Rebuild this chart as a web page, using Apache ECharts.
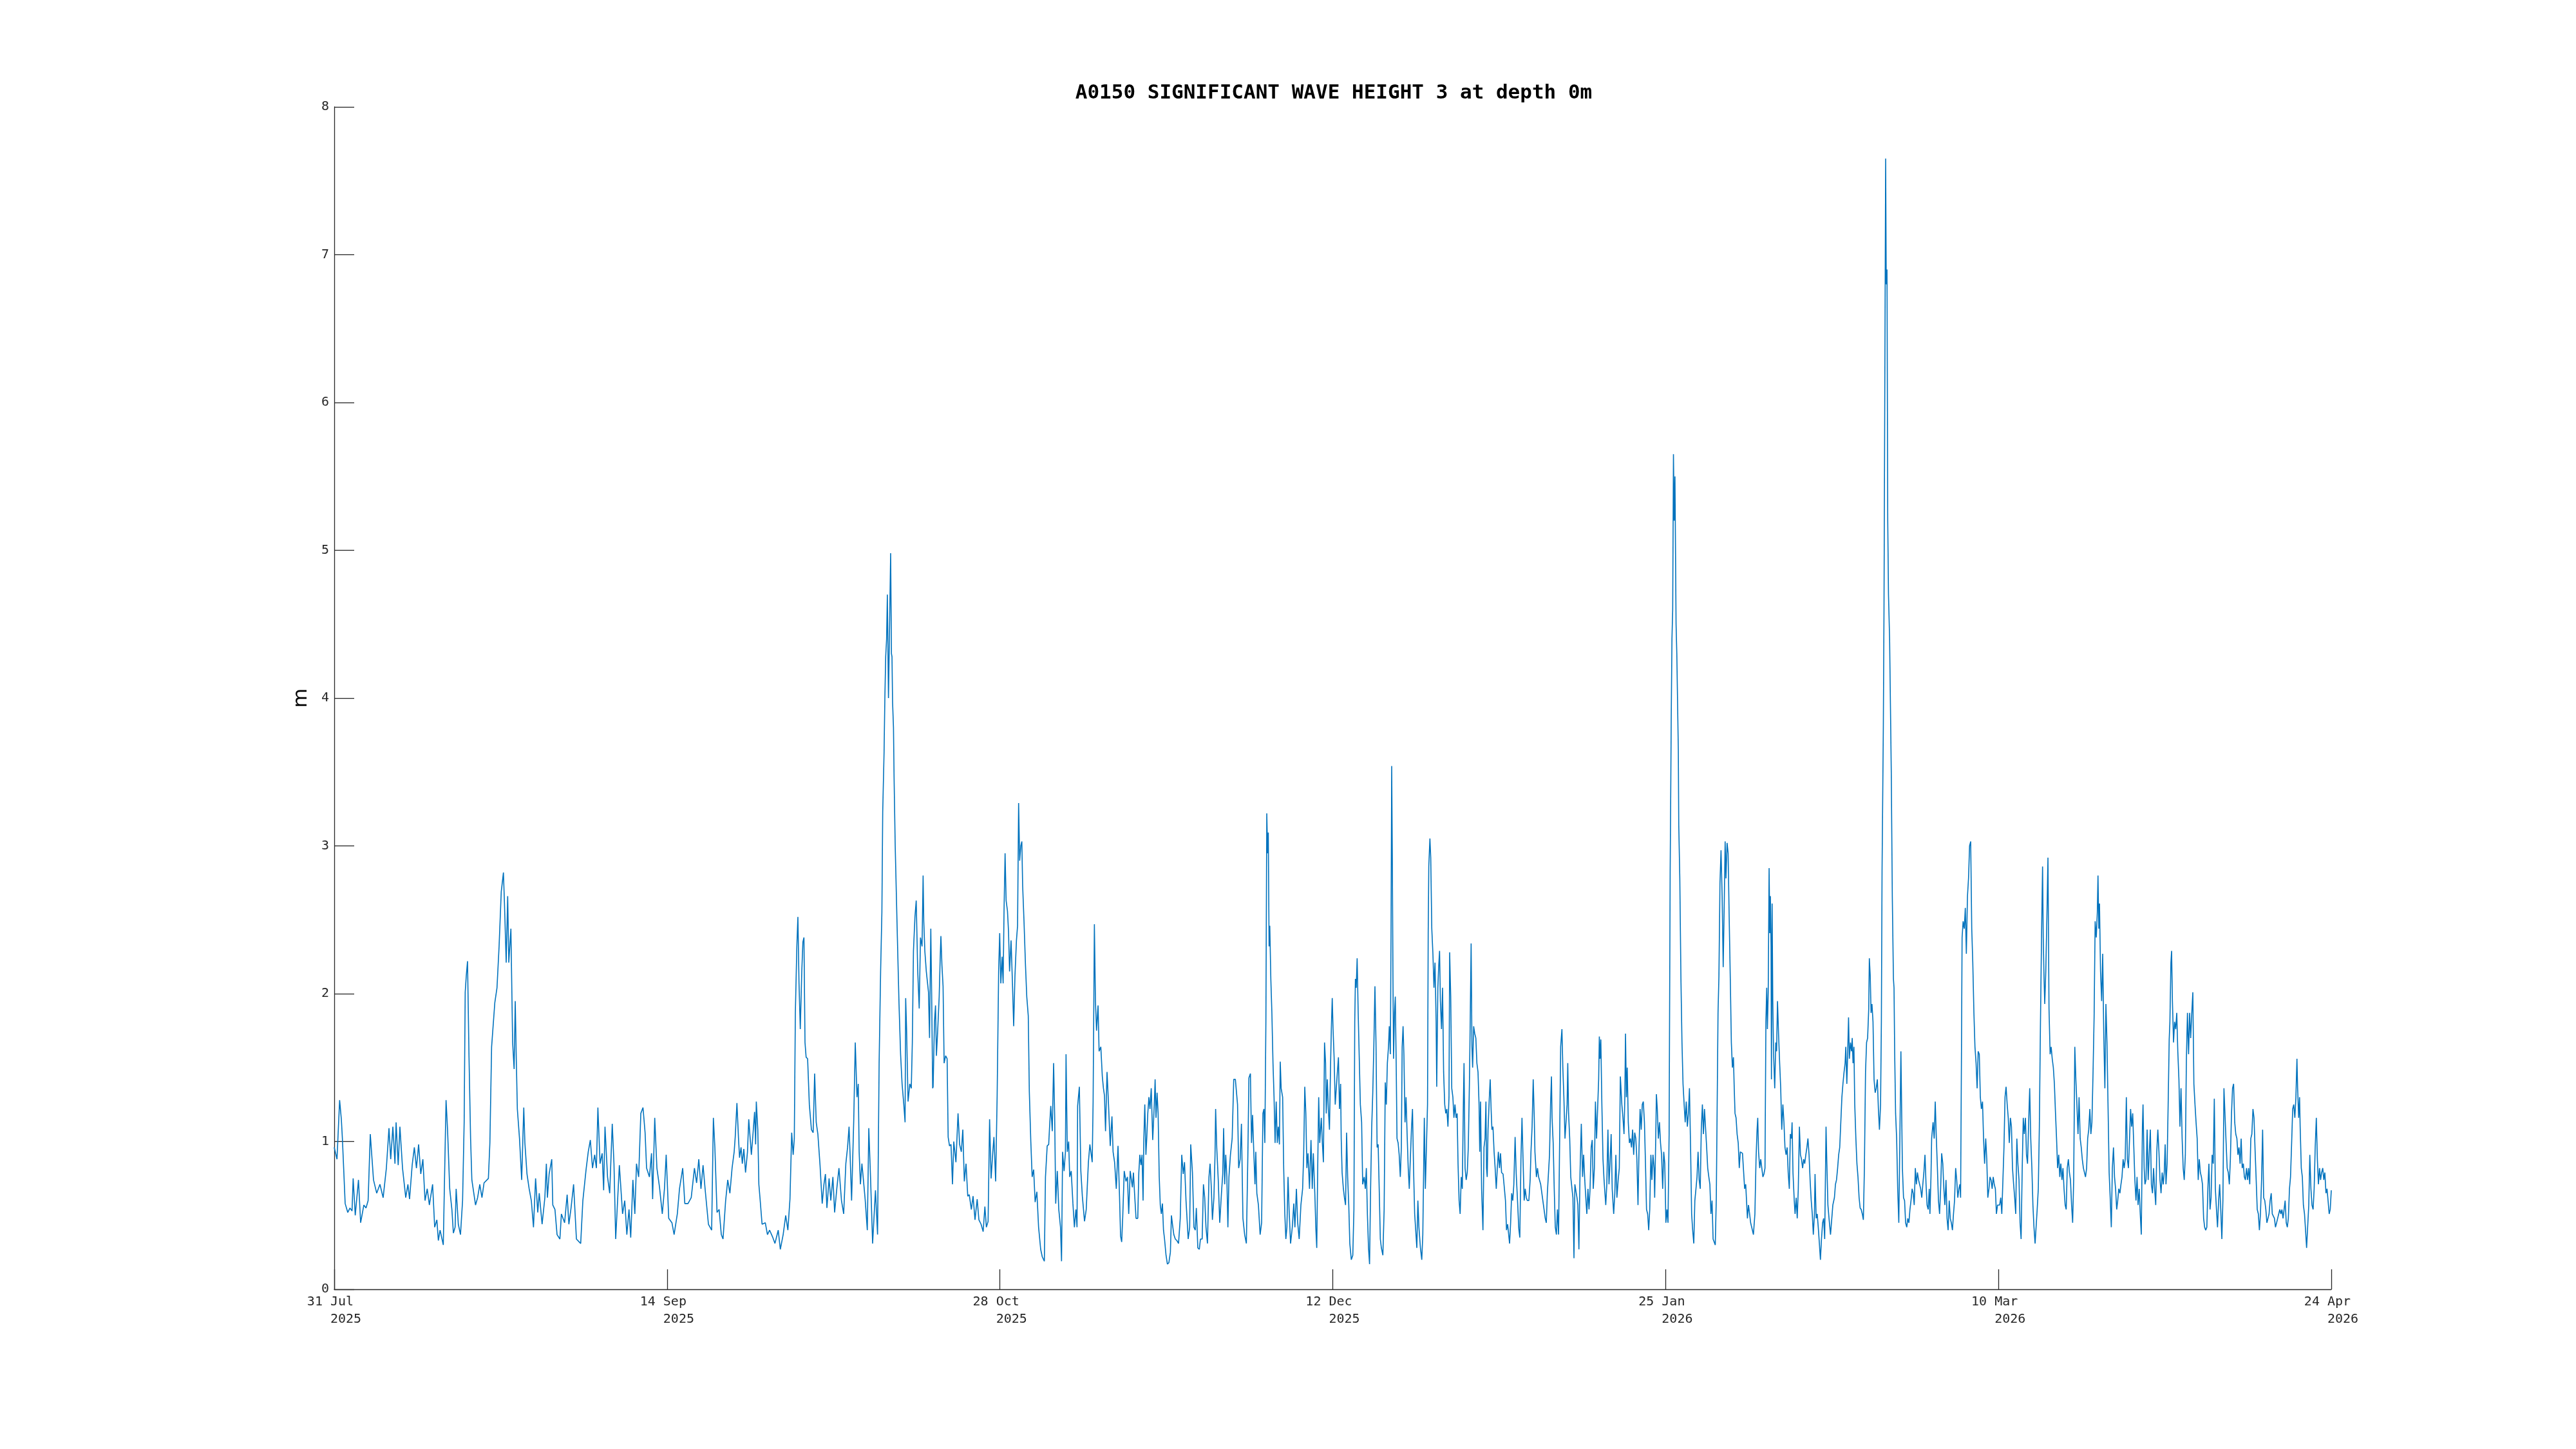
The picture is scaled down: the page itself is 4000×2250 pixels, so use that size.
<!DOCTYPE html>
<html>
<head>
<meta charset="utf-8">
<script src="https://cdn.jsdelivr.net/npm/echarts@6/dist/echarts.min.js"></script>
<style>
html,body{margin:0;padding:0;background:#fff;}
#chart{width:4000px;height:2250px;}
</style>
</head>
<body>
<div id="chart"></div>
<script>
// Title / axis texts
const chartTitle = 'A0150 SIGNIFICANT WAVE HEIGHT 3 at depth 0m';
const yAxisName = 'm';

// X ticks: days since 31 Jul 2025 00:00
const xTickDays = [0, 44.5, 89, 133.5, 178, 222.5, 267];
const xTickDates = ['31 Jul', '14 Sep', '28 Oct', '12 Dec', '25 Jan', '10 Mar', '24 Apr'];
const xTickYears = ['2025', '2025', '2025', '2025', '2026', '2026', '2026'];

// Y ticks
const yTicks = [0, 1, 2, 3, 4, 5, 6, 7, 8];

// Significant wave height [day since 31 Jul 2025, metres]
const waveHeight = [
[0,0.96],[0.37,0.88],[0.72,1.28],[0.95,1.15],[1.09,1.02],[1.46,0.58],[1.81,0.52],[2.1,0.55],[2.38,0.53],[2.53,0.75],[2.81,0.5],[3.24,0.74],[3.53,0.45],[3.96,0.57],[4.25,0.55],[4.53,0.6],[4.82,1.05],[5.25,0.74],[5.68,0.65],[6.11,0.71],[6.54,0.62],[6.97,0.82],[7.32,1.09],[7.55,0.88],[7.84,1.1],[8.12,0.85],[8.27,1.13],[8.55,0.84],[8.78,1.1],[9.13,0.82],[9.56,0.62],[9.85,0.71],[10.07,0.61],[10.42,0.84],[10.71,0.96],[10.99,0.82],[11.28,0.98],[11.57,0.78],[11.85,0.88],[12.14,0.6],[12.43,0.68],[12.72,0.57],[13.15,0.71],[13.43,0.42],[13.72,0.47],[13.92,0.33],[14.15,0.4],[14.58,0.3],[14.72,0.68],[14.95,1.28],[15.15,1.08],[15.44,0.68],[15.73,0.54],[15.93,0.38],[16.16,0.42],[16.3,0.68],[16.59,0.44],[16.88,0.37],[17.16,0.6],[17.37,1.13],[17.51,2.01],[17.65,2.12],[17.82,2.22],[18.02,1.57],[18.23,1.02],[18.4,0.74],[18.89,0.57],[19.17,0.62],[19.46,0.71],[19.75,0.62],[20.03,0.72],[20.61,0.75],[20.81,0.99],[21.04,1.64],[21.47,1.94],[21.76,2.04],[22.04,2.32],[22.33,2.69],[22.62,2.82],[22.76,2.61],[22.99,2.21],[23.19,2.66],[23.34,2.21],[23.62,2.44],[23.85,1.67],[24.05,1.49],[24.2,1.95],[24.34,1.56],[24.48,1.22],[24.77,1.02],[25.06,0.74],[25.34,1.23],[25.49,0.99],[25.77,0.78],[26.06,0.68],[26.35,0.6],[26.64,0.42],
[26.92,0.75],[27.21,0.52],[27.41,0.65],[27.79,0.44],[28.16,0.62],[28.36,0.85],[28.5,0.62],[28.73,0.78],[29.08,0.88],[29.22,0.57],[29.51,0.54],[29.79,0.37],[30.17,0.34],[30.37,0.51],[30.8,0.45],[31.14,0.64],[31.37,0.44],[31.66,0.55],[32.0,0.71],[32.38,0.34],[32.95,0.31],[33.24,0.6],[33.67,0.81],[33.96,0.93],[34.24,1.01],[34.53,0.82],[34.82,0.91],[35.05,0.82],[35.25,1.23],[35.54,0.85],[35.82,0.92],[36.02,0.67],[36.2,1.1],[36.54,0.76],[36.83,0.65],[37.17,1.12],[37.4,0.85],[37.63,0.34],[38.12,0.84],[38.55,0.51],[38.84,0.6],[39.12,0.37],[39.41,0.54],[39.64,0.35],[39.93,0.74],[40.19,0.51],[40.41,0.85],[40.7,0.76],[40.99,1.19],[41.28,1.23],[41.56,1.06],[41.76,0.82],[42.14,0.76],[42.42,0.92],[42.57,0.61],[42.85,1.16],[43.14,0.82],[43.49,0.69],[43.86,0.51],[44.15,0.68],[44.38,0.91],[44.72,0.48],[45.15,0.45],[45.44,0.37],[45.87,0.51],[46.16,0.68],[46.59,0.82],[46.87,0.58],[47.3,0.58],[47.73,0.62],[48.16,0.82],[48.45,0.72],[48.74,0.88],[49.03,0.68],[49.31,0.84],[49.6,0.67],[50.03,0.44],[50.46,0.4],[50.69,1.16],[50.89,0.96],[51.18,0.52],[51.46,0.54],[51.75,0.37],[51.98,0.34],[52.33,0.6],[52.61,0.74],[52.9,0.65],[53.19,0.82],[53.47,0.93],
[53.61,1.03],[53.84,1.26],[54.05,1.02],[54.19,0.89],[54.39,0.96],[54.56,0.85],[54.76,0.95],[54.99,0.79],[55.25,0.93],[55.42,1.15],[55.77,0.91],[56.0,1.06],[56.2,1.2],[56.34,0.98],[56.43,1.27],[56.63,1.08],[56.77,0.71],[56.92,0.62],[57.2,0.44],[57.63,0.45],[57.92,0.37],[58.21,0.4],[58.64,0.35],[58.92,0.31],[59.36,0.4],[59.64,0.27],[60.02,0.37],[60.36,0.5],[60.65,0.4],[60.93,0.61],[61.16,1.06],[61.36,0.91],[61.51,1.02],[61.65,1.87],[61.85,2.32],[61.99,2.52],[62.14,2.07],[62.31,1.76],[62.51,2.15],[62.66,2.35],[62.8,2.38],[62.94,1.67],[63.09,1.57],[63.29,1.56],[63.52,1.25],[63.8,1.08],[64.03,1.06],[64.23,1.46],[64.44,1.13],[64.66,1.05],[64.95,0.84],[65.24,0.58],[65.47,0.71],[65.67,0.78],[65.87,0.55],[66.16,0.75],[66.39,0.6],[66.67,0.76],[66.9,0.52],[67.19,0.68],[67.48,0.82],[67.82,0.6],[68.11,0.51],[68.4,0.85],[68.63,0.96],[68.83,1.1],[68.97,0.91],[69.17,0.6],[69.46,1.15],[69.66,1.67],[69.89,1.3],[70.06,1.39],[70.18,0.93],[70.35,0.71],[70.55,0.85],[70.75,0.74],[70.98,0.61],[71.27,0.4],[71.47,1.09],[71.7,0.76],[71.98,0.31],[72.36,0.67],[72.64,0.37],[72.85,1.53],[73.05,2.15],[73.22,2.55],[73.33,3.23],[73.51,3.63],[73.62,4.01],[73.73,4.28],[73.85,4.4],[73.95,4.7],[74.1,4.0],[74.25,4.5],[74.39,4.98],[74.5,4.3],[74.57,4.28],[74.65,3.97],[74.77,3.8],[74.85,3.46],[75.0,3.0],[75.29,2.38],[75.51,1.93],[75.72,1.59],[75.92,1.39],[76.15,1.25],[76.32,1.13],[76.4,1.97],[76.52,1.76],[76.72,1.27],[76.95,1.39],[77.15,1.36],[77.29,1.67],[77.44,2.29],[77.64,2.52],[77.81,2.63],[78.01,2.15],[78.21,1.9],[78.38,2.38],[78.59,2.32],[78.73,2.8],[78.82,2.49],[78.96,2.29],[79.16,2.15],[79.45,2.01],[79.59,1.7],[79.76,2.44],[79.87,2.01],[80.01,1.36],
[80.07,1.37],[80.25,1.81],[80.39,1.92],[80.51,1.58],[80.68,1.75],[80.88,1.98],[81.02,2.25],[81.11,2.39],[81.25,2.19],[81.4,2.05],[81.54,1.53],[81.74,1.58],[81.94,1.56],[82.08,1.03],[82.26,0.97],[82.46,0.98],[82.66,0.71],[82.83,1.0],[83.12,0.86],[83.4,1.19],[83.61,0.98],[83.84,0.93],[84.04,1.08],[84.24,0.73],[84.47,0.85],[84.7,0.63],[84.9,0.64],[85.18,0.54],[85.41,0.63],[85.67,0.47],[85.96,0.61],[86.19,0.47],[86.48,0.44],[86.76,0.39],[86.99,0.56],[87.19,0.42],[87.42,0.46],[87.62,1.15],[87.82,0.75],[88.05,0.93],[88.2,1.03],[88.43,0.73],[88.63,1.31],[88.83,2.15],[88.97,2.41],[89.12,2.07],[89.29,2.25],[89.43,2.07],[89.55,2.56],[89.69,2.95],[89.83,2.63],[90.01,2.56],[90.15,2.42],[90.29,2.15],[90.49,2.36],[90.67,2.08],[90.84,1.78],[91.01,2.12],[91.21,2.36],[91.36,2.46],[91.5,3.29],[91.64,2.9],[91.79,3.0],[91.93,3.03],[92.04,2.73],[92.22,2.49],[92.42,2.19],[92.59,1.98],[92.79,1.85],[92.93,1.34],[93.13,1.0],[93.31,0.76],[93.51,0.81],[93.71,0.59],[93.94,0.66],[94.17,0.42],[94.45,0.27],[94.66,0.22],[94.94,0.19],[95.09,0.76],[95.32,0.97],[95.52,0.98],[95.66,1.12],[95.8,1.24],[96.0,1.07],[96.18,1.53],[96.32,1.17],[96.46,0.58],[96.67,0.8],[96.87,0.54],[97.1,0.42],[97.24,0.19],[97.38,0.93],[97.58,0.8],[97.76,0.93],[97.84,1.59],[98.01,0.93],[98.19,1.0],[98.33,0.76],[98.53,0.8],[98.76,0.58],[98.96,0.42],[99.16,0.54],[99.31,0.42],[99.39,1.24],[99.62,1.37],[99.82,0.8],[100.02,0.63],[100.31,0.46],[100.54,0.54],[100.83,0.86],[101.03,0.98],[101.34,0.86],[101.46,1.27],[101.63,2.47],[101.77,1.95],[101.92,1.75],[102.12,1.92],[102.26,1.61],[102.49,1.64],[102.69,1.44],[102.84,1.36],[102.98,1.31],[103.12,1.07],[103.32,1.47],[103.47,1.31],[103.75,0.97],[103.98,1.17],[104.13,0.93],[104.33,0.86],[104.56,0.68],[104.79,0.97],[104.99,0.63],[105.13,0.36],[105.28,0.32],[105.42,0.49],[105.62,0.8],[105.85,0.73],[106.05,0.76],[106.22,0.51],[106.42,0.8],[106.71,0.69],
[106.85,0.79],[107.0,0.65],[107.2,0.48],[107.43,0.48],[107.57,0.79],[107.71,0.91],[107.86,0.84],[108.0,0.91],[108.14,0.6],[108.23,0.99],[108.37,1.25],[108.52,0.91],[108.63,1.02],[108.77,1.19],[108.92,1.3],[109.06,1.22],[109.23,1.36],[109.43,1.01],[109.64,1.25],[109.75,1.42],[109.87,1.16],[110.01,1.33],[110.15,1.19],[110.3,0.76],[110.44,0.57],[110.58,0.51],[110.73,0.58],[110.87,0.4],[111.01,0.34],[111.21,0.23],[111.39,0.17],[111.59,0.18],[111.79,0.25],[111.93,0.5],[112.07,0.44],[112.25,0.37],[112.45,0.34],[112.65,0.33],[112.88,0.31],[113.11,0.48],[113.31,0.91],[113.51,0.78],[113.68,0.86],[113.88,0.6],[114.17,0.34],[114.37,0.42],[114.51,0.98],[114.74,0.79],[114.94,0.42],[115.12,0.4],[115.26,0.55],[115.46,0.28],[115.66,0.27],[115.81,0.34],[116.04,0.34],[116.21,0.71],[116.38,0.62],[116.55,0.42],[116.75,0.31],[116.95,0.76],[117.1,0.85],[117.27,0.68],[117.41,0.47],[117.61,0.62],[117.76,0.91],[117.84,1.22],[117.99,0.96],[118.19,0.74],[118.39,0.45],[118.62,0.65],[118.79,0.78],[118.91,1.09],[119.05,0.71],[119.19,0.91],[119.34,0.76],[119.48,0.42],[119.62,0.76],[119.82,0.91],[120.05,1.02],[120.26,1.42],[120.48,1.42],[120.63,1.42],[120.77,1.25],[120.92,0.82],[121.12,0.88],[121.29,1.12],[121.49,0.48],[121.72,0.37],[121.95,0.31],[122.15,0.91],[122.29,1.43],[122.49,1.46],[122.64,0.99],[122.78,1.18],[122.92,0.96],[123.1,0.71],[123.21,0.93],[123.35,0.65],[123.56,0.57],[123.79,0.37],[123.99,0.45],[124.16,1.19],[124.3,1.22],[124.42,0.99],[124.56,1.81],[124.68,3.22],[124.79,2.95],[124.88,3.09],[124.99,2.32],[125.08,2.46],[125.22,2.1],[125.36,1.87],[125.51,1.53],[125.65,1.3],[125.79,0.99],[125.94,1.27],[126.08,0.99],[126.22,1.1],[126.37,0.98],[126.48,1.54],[126.6,1.36],[126.8,1.3],[126.94,0.82],[127.09,0.51],[127.23,0.34],[127.37,0.42],[127.52,0.76],[127.66,0.54],[127.86,0.31],[128.09,0.42],[128.29,0.58],[128.44,0.42],[128.64,0.68],[128.81,0.45],[129.01,0.34],[129.24,0.57],[129.47,0.68],[129.61,0.91],[129.76,1.37],[129.9,1.19],[130.04,0.82],[130.19,0.92],[130.39,0.68],[130.59,1.01],[130.76,0.68],[130.9,0.92],[131.1,0.65],[131.25,0.4],[131.36,0.28],[131.48,0.79],[131.62,1.3],[131.76,0.99],[131.97,1.16],[132.11,0.99],[132.25,0.86],[132.4,1.67],[132.54,1.53],[132.63,1.19],[132.77,1.42],[132.91,1.22],[133.06,1.08],[133.2,1.5],[133.31,1.76],[133.43,1.97],[133.54,1.76],
[133.68,1.57],[133.83,1.25],[133.97,1.36],[134.12,1.47],[134.26,1.57],[134.4,1.22],[134.55,1.39],[134.63,1.02],[134.75,0.79],[134.92,0.68],[135.06,0.62],[135.21,0.57],[135.35,1.06],[135.49,0.76],[135.64,0.57],[135.78,0.31],[135.98,0.2],[136.18,0.23],[136.33,0.54],[136.44,1.81],[136.53,2.1],[136.64,2.04],[136.76,2.24],[136.9,1.87],[137.04,1.57],[137.19,1.25],[137.36,1.13],[137.5,0.71],[137.7,0.76],[137.85,0.68],[137.99,0.82],[138.13,0.51],[138.28,0.28],[138.42,0.17],[138.56,0.68],[138.71,1.1],[138.85,1.33],[138.99,1.64],[139.14,2.05],[139.28,1.67],[139.43,0.96],[139.57,0.98],[139.71,0.68],[139.86,0.34],[140.0,0.28],[140.2,0.23],[140.37,0.54],[140.52,1.4],[140.66,1.25],[140.8,1.53],[140.95,1.64],[141.06,1.78],[141.2,1.59],[141.29,2.38],[141.38,3.54],[141.46,2.95],[141.55,2.1],[141.63,1.56],[141.75,1.87],[141.86,1.98],[141.98,1.53],[142.09,1.02],[142.24,0.99],[142.38,0.91],[142.53,0.76],[142.67,0.96],[142.78,1.64],[142.9,1.78],[143.01,1.59],[143.16,1.13],[143.3,1.3],[143.44,1.05],[143.59,0.82],[143.73,0.68],[143.87,0.88],[144.02,1.08],[144.16,1.22],[144.3,0.82],[144.45,0.51],[144.59,0.4],[144.74,0.28],[144.88,0.6],[145.02,0.42],[145.22,0.28],[145.4,0.2],[145.54,0.37],[145.74,1.16],[145.88,0.68],[146.03,0.68],[146.17,1.25],[146.26,2.41],[146.34,2.86],[146.49,3.05],[146.6,2.92],[146.74,2.44],[146.89,2.27],[147.03,2.04],[147.17,2.21],[147.32,1.81],[147.4,1.37],[147.55,2.04],[147.66,2.18],[147.78,2.29],[147.89,1.95],[148.04,1.76],[148.18,2.04],[148.32,1.47],[148.47,1.25],[148.61,1.19],[148.75,1.22],[148.9,1.1],[149.04,1.3],[149.13,2.28],[149.27,1.98],[149.41,1.36],[149.56,1.3],[149.7,1.16],[149.84,1.25],[149.99,1.16],[150.13,1.19],[150.25,0.85],[150.39,0.6],[150.53,0.51],[150.68,0.76],[150.82,0.68],[150.96,1.25],[151.05,1.53],[151.19,0.82],[151.34,0.74],[151.48,0.79],[151.62,0.96],[151.77,1.39],[151.85,1.7],[152.0,2.34],[152.11,1.64],[152.2,1.5],[152.34,1.78],[152.48,1.73],[152.63,1.7],[152.77,1.53],[152.92,1.47],[153.06,1.25],[153.15,0.93],[153.26,1.27],[153.4,0.68],[153.58,0.4],[153.72,0.96],[153.86,1.02],[153.98,1.27],[154.06,0.82],[154.15,0.76],[154.26,1.08],[154.41,1.27],[154.55,1.42],[154.67,1.22],[154.78,1.08],[154.92,1.1],[155.07,0.93],[155.21,0.82],[155.36,0.68],[155.5,0.82],[155.64,0.93],[155.79,0.82],[155.93,0.92],[156.07,0.79],[156.27,0.78],[156.45,0.68],[156.59,0.6],[156.73,0.4],[156.88,0.44],[157.02,0.37],[157.14,0.31],[157.28,0.45],[157.42,0.65],[157.57,0.6],[157.71,0.71],[157.88,1.03],[158.02,0.79],[158.23,0.57],[158.37,0.41],[158.51,0.35],[158.66,0.88],[158.8,1.16],[158.94,0.88],[159.09,0.6],[159.23,0.68],[159.37,0.62],[159.52,0.6],[159.72,0.6],[159.89,0.74],[160.0,0.93],[160.15,1.1],
[160.3,1.42],[160.44,1.16],[160.53,0.93],[160.73,0.76],[160.87,0.82],[161.02,0.76],[161.3,0.71],[161.59,0.6],[161.91,0.48],[162.05,0.45],[162.19,0.65],[162.48,0.91],[162.62,1.25],[162.74,1.44],[162.82,1.16],[162.97,0.99],[163.11,0.68],[163.25,0.42],[163.4,0.37],[163.54,0.54],[163.69,0.37],[163.83,0.99],[163.97,1.64],[164.14,1.76],[164.26,1.5],[164.4,1.3],[164.55,1.02],[164.69,1.02],[164.83,1.25],[164.92,1.53],[165.03,1.19],[165.18,1.02],[165.32,0.76],[165.46,0.76],[165.61,0.62],[165.75,0.21],[165.87,0.71],[166.01,0.71],[166.15,0.62],[166.27,0.57],[166.41,0.27],[166.56,0.79],[166.73,1.12],[166.9,0.76],[167.04,0.91],[167.19,0.74],[167.33,0.62],[167.47,0.51],[167.62,0.68],[167.76,0.54],[167.9,0.68],[168.05,0.96],[168.19,1.01],[168.33,0.68],[168.48,0.82],[168.62,1.27],[168.77,1.02],[168.91,1.02],[169.05,1.42],[169.14,1.71],[169.23,1.56],[169.34,1.69],[169.48,1.25],[169.63,0.88],[169.77,0.74],[170.0,0.57],[170.14,0.71],[170.29,1.08],[170.43,0.71],[170.57,0.85],[170.72,1.05],[170.86,0.68],[171.06,0.51],[171.21,0.65],[171.35,0.91],[171.49,0.62],[171.66,0.74],[171.81,0.82],[171.95,1.44],[172.15,1.25],[172.3,1.16],[172.44,1.05],[172.55,1.3],[172.64,1.73],[172.76,1.3],[172.87,1.5],[173.01,1.13],[173.16,0.99],[173.3,1.02],[173.44,0.96],[173.59,1.08],[173.73,0.91],[173.87,1.06],[174.02,1.02],[174.16,0.88],[174.31,0.57],[174.45,0.96],[174.59,1.22],[174.74,1.08],[174.88,1.25],[175.02,1.27],[175.17,1.13],[175.31,0.85],[175.45,0.54],[175.6,0.51],[175.74,0.4],[175.88,0.54],[176.03,0.91],[176.17,0.74],[176.31,0.91],[176.46,0.82],[176.54,0.62],[176.69,1.05],[176.77,1.32],[176.89,1.22],[177.03,1.02],[177.18,1.13],[177.32,0.99],[177.46,0.91],[177.61,0.68],[177.75,0.93],[177.89,0.85],[178.04,0.45],[178.18,0.54],[178.32,0.45],[178.47,1.05],[178.61,2.83],[178.7,3.46],[178.75,3.85],[178.85,4.4],[178.95,4.6],[179.05,5.65],[179.15,5.2],[179.25,5.5],[179.4,4.5],[179.5,4.3],[179.7,3.65],[179.76,3.14],[179.9,2.78],[180.05,2.1],[180.19,1.67],[180.33,1.39],[180.48,1.25],[180.62,1.13],[180.76,1.27],[180.91,1.1],[181.05,1.19],[181.19,1.36],[181.34,0.96],[181.48,0.51],[181.62,0.4],[181.77,0.31],[181.91,0.6],[182.06,0.68],[182.2,0.76],[182.34,0.93],[182.49,0.74],[182.63,0.68],[182.77,1.08],[182.92,1.25],[183.06,1.05],[183.2,1.22],[183.35,1.22],[183.49,0.96],[183.63,0.82],[183.78,0.76],[183.92,0.71],[184.06,0.51],[184.21,0.6],[184.35,0.34],[184.64,0.3],[184.78,0.62],[184.93,0.62],[185.01,1.87],[185.13,2.12],[185.27,2.75],[185.41,2.97],[185.56,2.66],[185.7,2.18],[185.84,2.61],[185.96,3.03],[186.07,2.78],[186.22,3.02],[186.36,2.95],[186.5,2.52],[186.65,2.1],[186.79,1.67],[186.93,1.5],
[187.07,1.57],[187.16,1.39],[187.28,1.19],[187.42,1.16],[187.56,1.05],[187.71,0.99],[187.85,0.82],[187.99,0.93],[188.28,0.92],[188.57,0.68],[188.71,0.71],[188.94,0.48],[189.08,0.57],[189.23,0.51],[189.37,0.45],[189.51,0.42],[189.74,0.37],[189.94,0.51],[190.09,0.88],[190.23,1.08],[190.32,1.16],[190.43,0.93],[190.58,0.82],[190.72,0.88],[190.86,0.88],[191.01,0.76],[191.15,0.78],[191.29,0.82],[191.41,1.81],[191.52,2.04],[191.61,1.76],[191.72,2.01],[191.84,2.85],[191.93,2.41],[192.01,2.66],[192.1,2.32],[192.15,1.42],[192.24,2.61],[192.33,1.95],[192.44,1.59],[192.59,1.36],[192.73,1.67],[192.84,1.61],[192.96,1.95],[193.1,1.73],[193.25,1.53],[193.39,1.36],[193.53,1.08],[193.68,1.25],[193.82,1.13],[193.96,0.96],[194.11,0.91],[194.25,0.96],[194.39,0.79],[194.54,0.68],[194.68,1.05],[194.82,1.02],[194.91,1.13],[195.03,0.79],[195.2,0.6],[195.31,0.51],[195.46,0.62],[195.6,0.48],[195.74,0.68],[195.89,1.1],[196.03,0.91],[196.17,0.88],[196.32,0.82],[196.46,0.88],[196.6,0.85],[196.75,0.91],[196.89,0.96],[197.03,1.02],[197.18,0.91],[197.32,0.74],[197.47,0.6],[197.61,0.51],[197.75,0.37],[197.9,0.51],[197.98,0.78],[198.13,0.48],[198.27,0.51],[198.41,0.42],[198.56,0.31],[198.7,0.2],[198.84,0.34],[198.99,0.45],[199.13,0.48],[199.27,0.34],[199.45,1.1],[199.56,0.85],[199.7,0.57],[199.85,0.48],[200.05,0.37],[200.22,0.48],[200.36,0.57],[200.57,0.62],[200.71,0.71],[200.85,0.74],[201.0,0.82],[201.14,0.91],[201.28,0.96],[201.43,0.96],[201.57,1.3],[201.71,1.39],[201.86,1.47],[202.0,1.53],[202.09,1.64],[202.23,1.39],[202.34,1.59],[202.46,1.84],[202.57,1.56],[202.72,1.67],[202.86,1.61],[202.95,1.7],[203.06,1.53],[203.18,1.64],[203.29,1.25],[203.44,1.02],[203.58,0.85],[203.72,0.76],[203.87,0.62],[204.01,0.55],[204.15,0.54],[204.3,0.51],[204.44,0.47],[204.58,0.82],[204.73,1.47],[204.87,1.67],[205.01,1.7],[205.16,1.9],[205.24,2.24],[205.36,2.12],[205.47,1.87],[205.59,1.93],[205.73,1.81],[205.87,1.42],[206.02,1.33],[206.16,1.36],[206.31,1.42],[206.45,1.22],[206.59,1.08],[206.74,1.25],[206.85,1.81],[206.94,2.83],[207.02,3.29],[207.11,3.8],[207.2,4.6],[207.3,6.0],[207.42,7.65],[207.5,6.8],[207.6,6.9],[207.7,5.2],[207.8,4.7],[207.95,4.4],[208.17,3.51],[208.31,2.66],[208.46,2.1],[208.54,2.04],[208.63,1.59],[208.75,1.19],[208.89,1.02],[209.03,0.68],[209.18,0.45],[209.32,1.02],[209.46,1.61],[209.55,1.25],[209.66,0.82],[209.81,0.62],[209.95,0.6],[210.09,0.45],[210.24,0.42],[210.38,0.48],[210.53,0.45],[210.67,0.54],[210.81,0.6],[210.96,0.68],[211.1,0.65],[211.24,0.57],[211.39,0.82],[211.53,0.71],[211.67,0.79],[211.82,0.74],[211.96,0.71],[212.1,0.68],[212.25,0.62],[212.39,0.71],[212.53,0.79],[212.68,0.91],[212.82,0.71],[212.96,0.57],[213.11,0.54],[213.25,0.68],[213.34,0.51],[213.48,0.76],[213.57,1.02],
[213.62,1.02],[213.76,1.13],[213.91,1.02],[214.05,1.27],[214.2,1.02],[214.34,0.82],[214.48,0.6],[214.63,0.51],[214.77,0.68],[214.91,0.92],[215.06,0.85],[215.2,0.68],[215.34,0.57],[215.49,0.74],[215.63,0.48],[215.77,0.4],[215.92,0.6],[216.06,0.48],[216.2,0.45],[216.35,0.4],[216.49,0.51],[216.63,0.6],[216.78,0.82],[216.92,0.74],[217.07,0.62],[217.21,0.68],[217.35,0.71],[217.44,0.62],[217.55,1.53],[217.64,2.38],[217.78,2.49],[217.93,2.44],[218.07,2.58],[218.21,2.27],[218.36,2.66],[218.5,2.78],[218.64,3.0],[218.79,3.03],[218.93,2.44],[219.07,2.21],[219.22,1.87],[219.36,1.64],[219.51,1.53],[219.65,1.36],[219.79,1.61],[219.94,1.59],[220.08,1.3],[220.22,1.22],[220.37,1.27],[220.51,1.02],[220.65,0.85],[220.8,1.02],[220.94,0.88],[221.08,0.62],[221.23,0.68],[221.37,0.76],[221.51,0.74],[221.66,0.68],[221.8,0.76],[221.94,0.71],[222.09,0.68],[222.23,0.51],[222.38,0.57],[222.66,0.57],[222.81,0.62],[222.95,0.51],[223.09,0.51],[223.24,0.96],[223.38,1.3],[223.52,1.37],[223.67,1.25],[223.81,1.16],[223.95,0.99],[224.1,1.16],[224.24,1.1],[224.38,0.82],[224.53,0.71],[224.67,0.62],[224.81,0.51],[224.96,1.02],[225.1,0.85],[225.25,0.74],[225.39,0.45],[225.53,0.34],[225.68,0.82],[225.82,1.16],[225.96,1.05],[226.11,1.16],[226.25,0.91],[226.39,0.85],[226.54,1.13],[226.68,1.36],[226.82,1.02],[226.97,0.82],[227.11,0.57],[227.25,0.42],[227.4,0.31],[227.54,0.31],[227.68,0.54],[227.83,0.68],[227.97,1.1],[228.12,1.81],[228.26,2.38],[228.4,2.86],[228.49,2.38],[228.6,2.1],[228.69,1.93],[228.83,2.15],[228.98,2.52],[229.12,2.92],[229.26,1.9],[229.41,1.59],[229.55,1.64],[229.69,1.56],[229.84,1.5],[229.98,1.39],[230.13,1.19],[230.27,1.02],[230.41,0.82],[230.56,0.91],[230.7,0.76],[230.84,0.85],[230.99,0.74],[231.13,0.82],[231.27,0.68],[231.42,0.57],[231.56,0.54],[231.7,0.82],[231.85,0.88],[231.99,0.79],[232.13,0.74],[232.28,0.57],[232.42,0.45],[232.56,0.74],[232.71,1.64],[232.85,1.42],[232.99,1.25],[233.14,1.05],[233.28,1.3],[233.43,1.02],[233.57,0.96],[233.71,0.88],[233.86,0.82],[234.14,0.76],[234.29,0.82],[234.43,1.02],[234.57,1.08],[234.72,1.22],[234.86,1.05],[235.0,1.13],[235.15,1.47],[235.29,1.84],[235.43,2.49],[235.58,2.38],[235.72,2.55],[235.81,2.8],[235.92,2.44],[236.01,2.61],[236.15,2.15],[236.3,1.95],[236.44,2.27],[236.58,1.73],[236.73,1.36],[236.87,1.93],[237.01,1.67],[237.16,1.22],[237.3,0.79],[237.44,0.62],[237.59,0.42],[237.73,0.82],[237.88,0.96],[238.02,0.76],[238.16,0.68],[238.31,0.54],[238.45,0.6],[238.59,0.68],[238.74,0.65],[238.88,0.71],[239.02,0.76],[239.17,0.88],[239.31,0.82],[239.45,0.88],[239.6,1.3],[239.74,0.88],[239.88,0.82],[240.03,1.02],[240.17,1.22],[240.31,1.1],
[240.45,1.19],[240.6,0.96],[240.74,0.74],[240.89,0.6],[241.03,0.76],[241.17,0.57],[241.32,0.68],[241.46,0.51],[241.6,0.37],[241.75,1.1],[241.83,1.25],[241.98,0.82],[242.09,0.71],[242.23,0.74],[242.38,1.08],[242.52,0.74],[242.66,0.91],[242.81,1.08],[242.95,0.71],[243.1,0.65],[243.24,0.82],[243.38,0.68],[243.53,0.57],[243.67,0.93],[243.81,1.08],[243.96,0.93],[244.1,0.74],[244.24,0.65],[244.39,0.79],[244.53,0.71],[244.67,0.79],[244.79,0.98],[244.9,0.71],[245.05,0.85],[245.19,1.25],[245.33,1.69],[245.42,1.8],[245.56,2.21],[245.65,2.29],[245.76,1.95],[245.91,1.67],[246.05,1.81],[246.2,1.76],[246.34,1.87],[246.48,1.61],[246.63,1.42],[246.77,1.1],[246.91,1.36],[247.06,1.02],[247.2,0.82],[247.34,0.74],[247.49,0.91],[247.63,1.56],[247.77,1.87],[247.92,1.59],[248.06,1.87],[248.2,1.7],[248.35,1.87],[248.49,2.01],[248.63,1.39],[248.78,1.25],[248.92,1.13],[249.07,1.02],[249.21,0.74],[249.35,0.88],[249.5,0.79],[249.64,0.76],[249.78,0.71],[249.93,0.48],[250.07,0.42],[250.21,0.4],[250.36,0.42],[250.5,0.68],[250.64,0.85],[250.79,0.54],[250.93,0.62],[251.07,0.91],[251.22,0.85],[251.36,1.29],[251.5,0.68],[251.65,0.54],[251.79,0.42],[251.94,0.6],[252.08,0.71],[252.22,0.54],[252.37,0.34],[252.51,0.6],[252.65,1.36],[252.8,1.36],[252.94,0.99],[253.08,0.82],[253.23,0.79],[253.37,0.71],[253.51,0.88],[253.66,1.19],[253.8,1.36],[253.94,1.39],[254.09,1.13],[254.23,1.05],[254.38,1.02],[254.52,0.91],[254.66,0.96],[254.81,0.85],[254.95,1.02],[255.09,0.82],[255.24,0.85],[255.38,0.76],[255.52,0.74],[255.67,0.82],[255.81,0.74],[255.95,0.82],[256.1,0.71],[256.24,1.02],[256.38,1.05],[256.53,1.22],[256.67,1.16],[256.82,0.93],[256.96,0.74],[257.1,0.54],[257.25,0.51],[257.39,0.4],[257.53,0.51],[257.68,0.74],[257.82,1.08],[257.96,0.62],[258.11,0.6],[258.25,0.54],[258.39,0.45],[258.54,0.45],[258.68,0.51],[258.82,0.6],[258.97,0.65],[259.11,0.51],[259.25,0.51],[259.4,0.48],[259.54,0.42],[259.69,0.45],[259.83,0.48],[259.97,0.51],[260.12,0.54],[260.26,0.51],[260.4,0.54],[260.55,0.48],[260.69,0.54],[260.83,0.6],[260.98,0.45],[261.12,0.42],[261.26,0.48],[261.41,0.68],[261.55,0.76],[261.7,0.99],[261.84,1.22],[261.98,1.25],[262.13,1.16],[262.27,1.3],[262.41,1.56],[262.5,1.36],[262.64,1.16],[262.76,1.3],[262.84,1.1],[262.99,0.82],[263.13,0.76],[263.27,0.57],[263.42,0.51],[263.56,0.4],[263.7,0.28],[263.85,0.28],[263.99,0.57],[264.13,0.91],[264.28,0.68],[264.42,0.57],[264.57,0.54],[264.71,0.68],[264.85,0.96],[265.0,1.16],[265.14,0.88],[265.28,0.71],[265.43,0.82],[265.57,0.74],[265.71,0.79],[265.86,0.82],[266.0,0.74],[266.14,0.79],[266.29,0.65],[266.43,0.68],[266.57,0.6],[266.72,0.51],[266.86,0.54],[267.0,0.67]
];

const axisColor = '#262626';
const monoFont = '"DejaVu Sans Mono", "Liberation Mono", monospace';

const chart = echarts.init(document.getElementById('chart'), null, {renderer: 'canvas'});
chart.setOption({
  backgroundColor: '#ffffff',
  animation: false,
  title: {
    text: chartTitle,
    left: 2066,
    top: 124,
    textAlign: 'center',
    textStyle: {fontFamily: monoFont, fontWeight: 'bold', fontSize: 31, color: '#000000'}
  },
  grid: {left: 519, top: 166, width: 3101, height: 1836, containLabel: false},
  xAxis: {
    type: 'value',
    min: xTickDays[0],
    max: xTickDays[xTickDays.length - 1],
    interval: xTickDays[1] - xTickDays[0],
    axisLine: {show: true, lineStyle: {color: axisColor, width: 1.3}},
    axisTick: {show: true, inside: true, length: 31, lineStyle: {color: axisColor, width: 1.3}},
    splitLine: {show: false},
    axisLabel: {
      margin: 6,
      fontFamily: monoFont,
      fontSize: 20,
      lineHeight: 27,
      color: axisColor,
      align: 'center',
      formatter: function (v) {
        const i = xTickDays.indexOf(Math.round(v * 2) / 2);
        if (i < 0) return '';
        return xTickDates[i] + ' \n   ' + xTickYears[i];
      }
    }
  },
  yAxis: {
    type: 'value',
    min: yTicks[0],
    max: yTicks[yTicks.length - 1],
    interval: yTicks[1] - yTicks[0],
    name: yAxisName,
    nameLocation: 'middle',
    nameGap: 36,
    nameRotate: 90,
    nameTextStyle: {fontFamily: '"DejaVu Sans", sans-serif', fontSize: 31, color: '#000000'},
    axisLine: {show: true, lineStyle: {color: axisColor, width: 1.3}},
    axisTick: {show: true, inside: true, length: 31, lineStyle: {color: axisColor, width: 1.3}},
    splitLine: {show: false},
    axisLabel: {margin: 8, fontFamily: monoFont, fontSize: 20, color: axisColor}
  },
  series: [{
    type: 'line',
    data: waveHeight,
    showSymbol: false,
    symbol: 'none',
    smooth: false,
    sampling: null,
    lineStyle: {color: '#0072BD', width: 1.6},
    itemStyle: {color: '#0072BD'}
  }]
});
</script>
</body>
</html>
